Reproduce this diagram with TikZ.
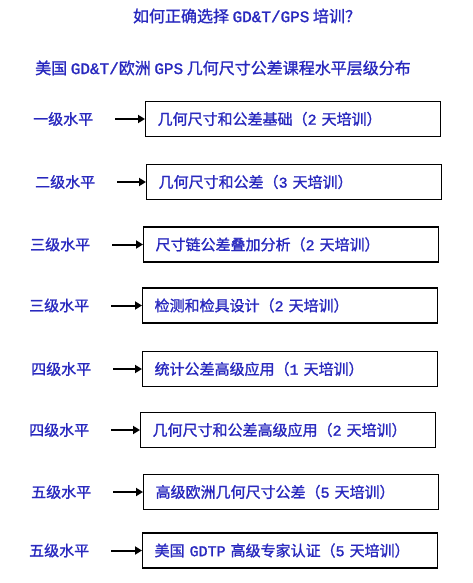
\documentclass[tikz,border=0pt]{standalone}
\usepackage{fontspec}
\setmainfont{Noto Sans CJK SC}[AutoFakeBold=1.2]
\newfontfamily\latinmono{Liberation Mono}[AutoFakeBold=1.5]
\usetikzlibrary{arrows.meta}
\definecolor{lvlblue}{RGB}{40,40,190}
\newcommand{\lat}[1]{{\latinmono #1}}
\begin{document}
\begin{tikzpicture}[yscale=-1,x=1pt,y=1pt,
  head/.style={text=lvlblue,font=\bfseries\fontsize{16}{16}\selectfont,inner sep=0pt},
  lvl/.style={anchor=west,text=lvlblue,font=\bfseries\fontsize{15}{15}\selectfont,inner sep=0pt,
    text width=60pt,align=left},
  course/.style={draw=black,line width=1.2pt,anchor=west,text=lvlblue,font=\bfseries\fontsize{15}{15}\selectfont,
    minimum height=35pt,text width=271pt,inner xsep=12pt,align=left},
  lead/.style={-{Triangle[length=7pt,width=8pt]},line width=2pt}]
\useasboundingbox (0,0) rectangle (472,583);
\node[head] (Title) at (247,16) {如何正确选择 \lat{GD\&T/GPS} 培训？};
\node[head,anchor=west] (Sub) at (35,68) {美国 \lat{GD\&T/}欧洲 \lat{GPS} 几何尺寸公差课程水平层级分布};
\node[lvl] (L1) at (33,119) {一级水平};
\node[lvl] (L2) at (35,182) {二级水平};
\node[lvl] (L3) at (30,244.5) {三级水平};
\node[lvl] (L4) at (29,305.5) {三级水平};
\node[lvl] (L5) at (31,369) {四级水平};
\node[lvl] (L6) at (29,430) {四级水平};
\node[lvl] (L7) at (31,492) {五级水平};
\node[lvl] (L8) at (29,550.5) {五级水平};
\node[course] (B1) at (145,119) {几何尺寸和公差基础（\lat{2} 天培训）};
\node[course] (B2) at (146,182) {几何尺寸和公差（\lat{3} 天培训）};
\node[course] (B3) at (143,244.5) {尺寸链公差叠加分析（\lat{2} 天培训）};
\node[course] (B4) at (142,305.5) {检测和检具设计（\lat{2} 天培训）};
\node[course] (B5) at (142,369) {统计公差高级应用（\lat{1} 天培训）};
\node[course] (B6) at (140,430) {几何尺寸和公差高级应用（\lat{2} 天培训）};
\node[course] (B7) at (143,492) {高级欧洲几何尺寸公差（\lat{5} 天培训）};
\node[course] (B8) at (142,550.5) {美国 \lat{GDTP} 高级专家认证（\lat{5} 天培训）};
\draw[lead,shorten <=22pt] (L1.east) -- (B1.west);
\draw[lead,shorten <=22pt] (L2.east) -- (B2.west);
\draw[lead,shorten <=22pt] (L3.east) -- (B3.west);
\draw[lead,shorten <=22pt] (L4.east) -- (B4.west);
\draw[lead,shorten <=22pt] (L5.east) -- (B5.west);
\draw[lead,shorten <=22pt] (L6.east) -- (B6.west);
\draw[lead,shorten <=22pt] (L7.east) -- (B7.west);
\draw[lead,shorten <=22pt] (L8.east) -- (B8.west);
\end{tikzpicture}
\end{document}
